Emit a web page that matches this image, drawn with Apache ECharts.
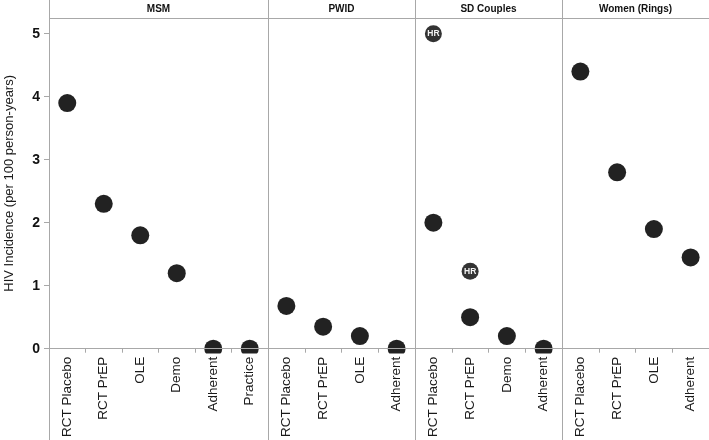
<!DOCTYPE html>
<html>
<head>
<meta charset="utf-8">
<script src="https://cdn.jsdelivr.net/npm/echarts@6/dist/echarts.min.js"></script>
<style>html,body{margin:0;padding:0;background:#fff}#c{width:709px;height:440px}</style>
</head>
<body>
<div id="c"></div>
<script>
const panelNames = ['MSM', 'PWID', 'SD Couples', 'Women (Rings)'];
const msmCats = ['RCT Placebo', 'RCT PrEP', 'OLE', 'Demo', 'Adherent', 'Practice'];
const msmVals = [3.9, 2.3, 1.8, 1.2, 0, 0];
const pwidCats = ['RCT Placebo', 'RCT PrEP', 'OLE', 'Adherent'];
const pwidVals = [0.68, 0.35, 0.2, 0];
const sdCats = ['RCT Placebo', 'RCT PrEP', 'Demo', 'Adherent'];
const sdVals = [2.0, 0.5, 0.2, 0];
const sdHR = [5.0, 1.23, null, null];
const womenCats = ['RCT Placebo', 'RCT PrEP', 'OLE', 'Adherent'];
const womenVals = [4.4, 2.8, 1.9, 1.45];
const yTicks = [0, 1, 2, 3, 4, 5];

const catsList = [msmCats, pwidCats, sdCats, womenCats];
const valsList = [msmVals, pwidVals, sdVals, womenVals];

const lefts = [49, 268, 415, 562];
const widths = [219, 147, 147, 147];
const gTop = 18, plotH = 335;
const lineCol = '#a8a8a8';
const font = 'Liberation Sans, Arial, Helvetica, sans-serif';

const chart = echarts.init(document.getElementById('c'), null, {renderer: 'canvas'});

const grids = [], xAxes = [], yAxes = [], series = [], graphics = [];
for (let i = 0; i < 4; i++) {
  grids.push({left: lefts[i], top: gTop, width: widths[i], height: plotH, containLabel: false});
  xAxes.push({
    type: 'category', gridIndex: i, data: catsList[i], boundaryGap: true, z: 6,
    axisLine: {show: true, lineStyle: {color: lineCol, width: 1}},
    axisTick: {show: true, length: 4, lineStyle: {color: lineCol}},
    axisLabel: {rotate: 90, fontSize: 13.5, color: '#1a1a1a', fontFamily: font, margin: 8, interval: 0},
    splitLine: {show: false}
  });
  yAxes.push({
    type: 'value', gridIndex: i, min: 0, max: 5.25, interval: 1,
    axisLine: {show: false},
    axisTick: {show: i === 0, length: 5, lineStyle: {color: lineCol}, customValues: yTicks},
    axisLabel: {show: i === 0, fontSize: 14, fontWeight: 'bold', color: '#111', fontFamily: font, margin: 9, customValues: yTicks},
    splitLine: {show: false},
    name: i === 0 ? 'HIV Incidence (per 100 person-years)' : '',
    nameLocation: 'middle', nameGap: 33,
    nameTextStyle: {fontSize: 13, color: '#1a1a1a', fontFamily: font}
  });
  series.push({
    type: 'scatter', xAxisIndex: i, yAxisIndex: i, data: valsList[i],
    symbol: 'circle', symbolSize: 18, clip: false, z: 2,
    itemStyle: {color: '#222222', opacity: 1}
  });
  graphics.push({
    type: 'text', x: lefts[i] + widths[i] / 2, y: 9, z: 10,
    style: {text: panelNames[i], fill: '#111', font: 'bold 10px ' + font, textAlign: 'center', textVerticalAlign: 'middle'}
  });
}
series.push({
  type: 'scatter', xAxisIndex: 2, yAxisIndex: 2, data: sdHR,
  symbol: 'circle', symbolSize: 17, clip: false, z: 3,
  itemStyle: {color: '#333333', opacity: 1},
  label: {show: true, position: 'inside', formatter: 'HR', color: '#f4f4f4', fontSize: 8.5, fontWeight: 'bold', fontFamily: font}
});

graphics.push({type: 'rect', z: 4, shape: {x: 49, y: gTop + plotH + 0.5, width: 660, height: 100}, style: {fill: '#fff'}});
graphics.push({type: 'line', z: 10, shape: {x1: 49, y1: gTop + 0.5, x2: 709, y2: gTop + 0.5}, style: {stroke: lineCol, lineWidth: 1}});
for (let i = 0; i < 4; i++) {
  const x = lefts[i] + 0.5;
  graphics.push({type: 'line', z: 10, shape: {x1: x, y1: 0, x2: x, y2: 440}, style: {stroke: lineCol, lineWidth: 1}});
}

chart.setOption({
  animation: false,
  backgroundColor: '#fff',
  grid: grids, xAxis: xAxes, yAxis: yAxes, series: series,
  graphic: graphics
});
</script>
</body>
</html>
